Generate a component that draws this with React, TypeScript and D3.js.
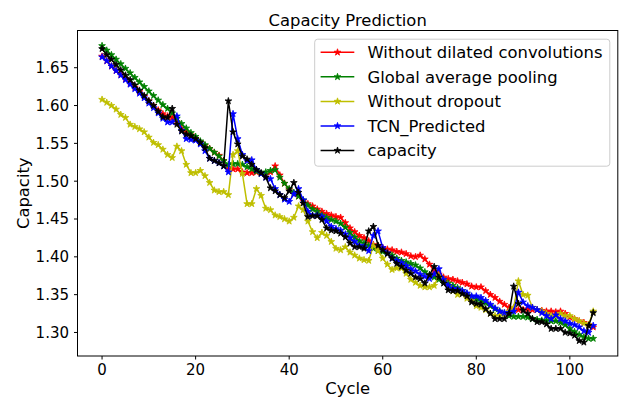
import React from "react";
import * as d3 from "d3";

const cycles: number[] = Array.from({ length: 106 }, (_, i) => i);

const withoutDilated: number[] = [
  1.665, 1.659, 1.652, 1.646, 1.641, 1.635, 1.629, 1.624, 1.618, 1.612,
  1.606, 1.600, 1.594, 1.589, 1.586, 1.584, 1.578, 1.570, 1.565, 1.561,
  1.556, 1.552, 1.547, 1.543, 1.538, 1.534, 1.527, 1.516, 1.516, 1.516,
  1.512, 1.511, 1.511, 1.512, 1.510, 1.508, 1.512, 1.520, 1.508, 1.497,
  1.489, 1.483, 1.480, 1.474, 1.470, 1.467, 1.463, 1.460, 1.457, 1.455,
  1.453, 1.452, 1.445, 1.438, 1.433, 1.428, 1.425, 1.421, 1.416, 1.414,
  1.412, 1.410, 1.409, 1.407, 1.406, 1.404, 1.401, 1.400, 1.402, 1.397,
  1.390, 1.381, 1.377, 1.373, 1.371, 1.370, 1.368, 1.366, 1.364, 1.361,
  1.360, 1.360, 1.355, 1.350, 1.346, 1.341, 1.337, 1.333, 1.331, 1.330,
  1.330, 1.331, 1.330, 1.330, 1.329, 1.328, 1.328, 1.327, 1.328, 1.325,
  1.320, 1.318, 1.315, 1.313, 1.310, 1.307,
];

const globalAvgPooling: number[] = [
  1.679, 1.673, 1.667, 1.661, 1.655, 1.649, 1.643, 1.637, 1.631, 1.625,
  1.619, 1.613, 1.607, 1.601, 1.596, 1.590, 1.583, 1.576, 1.570, 1.564,
  1.559, 1.553, 1.548, 1.543, 1.538, 1.533, 1.527, 1.522, 1.523, 1.523,
  1.522, 1.519, 1.516, 1.513, 1.510, 1.512, 1.514, 1.515, 1.505, 1.497,
  1.490, 1.485, 1.480, 1.475, 1.468, 1.463, 1.460, 1.455, 1.452, 1.449,
  1.447, 1.444, 1.439, 1.432, 1.426, 1.421, 1.418, 1.415, 1.411, 1.408,
  1.407, 1.405, 1.402, 1.398, 1.395, 1.393, 1.391, 1.389, 1.385, 1.380,
  1.376, 1.373, 1.370, 1.368, 1.365, 1.362, 1.359, 1.355, 1.351, 1.347,
  1.344, 1.342, 1.339, 1.335, 1.331, 1.328, 1.325, 1.322, 1.321, 1.321,
  1.321, 1.320, 1.318, 1.317, 1.316, 1.316, 1.315, 1.315, 1.313, 1.310,
  1.305, 1.301, 1.297, 1.294, 1.292, 1.292,
];

const withoutDropout: number[] = [
  1.608, 1.604, 1.600, 1.595, 1.588, 1.584, 1.575, 1.572, 1.569, 1.565,
  1.558, 1.551, 1.548, 1.542, 1.535, 1.531, 1.546, 1.540, 1.522, 1.511,
  1.511, 1.514, 1.507, 1.498, 1.488, 1.486, 1.486, 1.482, 1.535, 1.540,
  1.510, 1.470, 1.470, 1.490, 1.481, 1.464, 1.462, 1.455, 1.453, 1.450,
  1.447, 1.452, 1.467, 1.462, 1.447, 1.433, 1.425, 1.432, 1.428, 1.420,
  1.411, 1.409, 1.413, 1.406, 1.402, 1.398, 1.396, 1.395, 1.415, 1.408,
  1.398, 1.390, 1.383, 1.385, 1.385, 1.378, 1.370, 1.366, 1.362, 1.360,
  1.360, 1.362, 1.375, 1.370, 1.360, 1.355, 1.350, 1.352, 1.345, 1.342,
  1.335, 1.333, 1.330, 1.325, 1.322, 1.322, 1.325, 1.328, 1.333, 1.368,
  1.350, 1.349, 1.333, 1.330, 1.328, 1.325, 1.322, 1.322, 1.325, 1.322,
  1.322, 1.318, 1.315, 1.312, 1.310, 1.328,
];

const tcnPredicted: number[] = [
  1.664, 1.659, 1.652, 1.646, 1.640, 1.634, 1.628, 1.622, 1.616, 1.610,
  1.603, 1.597, 1.590, 1.583, 1.578, 1.578, 1.586, 1.567, 1.556, 1.555,
  1.554, 1.549, 1.540, 1.530, 1.527, 1.524, 1.520, 1.512, 1.589, 1.556,
  1.535, 1.527, 1.528, 1.515, 1.510, 1.505, 1.503, 1.490, 1.482, 1.476,
  1.473, 1.483, 1.490, 1.475, 1.460, 1.455, 1.455, 1.453, 1.447, 1.440,
  1.437, 1.435, 1.430, 1.425, 1.420, 1.415, 1.413, 1.408, 1.428, 1.434,
  1.412, 1.405, 1.398, 1.395, 1.392, 1.388, 1.384, 1.381, 1.377, 1.374,
  1.371, 1.377, 1.384, 1.370, 1.362, 1.358, 1.357, 1.355, 1.352, 1.348,
  1.348, 1.346, 1.342, 1.337, 1.332, 1.328, 1.326, 1.326, 1.328, 1.353,
  1.340, 1.335, 1.333, 1.330, 1.326, 1.322, 1.318, 1.323, 1.318, 1.315,
  1.312, 1.310, 1.307, 1.302, 1.300, 1.309,
];

const capacity: number[] = [
  1.675, 1.667, 1.661, 1.654, 1.647, 1.640, 1.634, 1.627, 1.620, 1.613,
  1.606, 1.600, 1.592, 1.585, 1.584, 1.596, 1.575, 1.566, 1.562, 1.560,
  1.556, 1.551, 1.544, 1.530, 1.527, 1.524, 1.520, 1.606, 1.565, 1.549,
  1.533, 1.529, 1.522, 1.515, 1.511, 1.505, 1.491, 1.487, 1.482, 1.478,
  1.487, 1.498, 1.485, 1.471, 1.453, 1.454, 1.454, 1.449, 1.438, 1.435,
  1.434, 1.431, 1.426, 1.418, 1.413, 1.413, 1.411, 1.434, 1.440, 1.415,
  1.409, 1.404, 1.398, 1.391, 1.387, 1.382, 1.378, 1.373, 1.371, 1.365,
  1.376, 1.387, 1.373, 1.365, 1.356, 1.355, 1.355, 1.351, 1.348, 1.340,
  1.338, 1.337, 1.331, 1.325, 1.318, 1.318, 1.318, 1.325, 1.361, 1.338,
  1.329, 1.325, 1.318, 1.314, 1.314, 1.311, 1.305, 1.305, 1.305, 1.300,
  1.299, 1.296, 1.289, 1.287, 1.309, 1.326,
];

const seriesNames: string[] = [
  "Without dilated convolutions",
  "Global average pooling",
  "Without dropout",
  "TCN_Predicted",
  "capacity",
];
const seriesColors: string[] = ["#ff0000", "#008000", "#bfbf00", "#0000ff", "#000000"];
const seriesValues: number[][] = [withoutDilated, globalAvgPooling, withoutDropout, tcnPredicted, capacity];

const xTicks: number[] = [0, 20, 40, 60, 80, 100];
const yTicks: number[] = [1.3, 1.35, 1.4, 1.45, 1.5, 1.55, 1.6, 1.65];

const W = 622;
const H = 397;
const left = 77.5;
const right = 617.8;
const top = 30.5;
const bottom = 356;
const FONT = "DejaVu Sans, sans-serif";

export default function App() {
  const x = d3.scaleLinear().domain([-5.25, 110.25]).range([left, right]);
  const y = d3.scaleLinear().domain([1.2689, 1.6992]).range([bottom, top]);
  const line = d3
    .line<number>()
    .x((_, i) => x(cycles[i]))
    .y((d) => y(d));
  const star = d3.symbol().type(d3.symbolStar).size(14)() as string;

  const legX = 314.7;
  const legY = 39.2;
  const legW = 295.1;
  const legH = 127;
  const rowY0 = 52.3;
  const rowStep = 24.55;

  return (
    <svg
      width={W}
      height={H}
      style={{ position: "absolute", left: 0, top: 0, background: "#fff" }}
      fontFamily={FONT}
    >
      <rect x={0} y={0} width={W} height={H} fill="#fff" />
      <defs>
        <clipPath id="plotclip">
          <rect x={left} y={top} width={right - left} height={bottom - top} />
        </clipPath>
      </defs>
      <g clipPath="url(#plotclip)">
        {seriesValues.map((vals, si) => (
          <g key={si}>
            <path d={line(vals) || ""} fill="none" stroke={seriesColors[si]} strokeWidth={1.5} strokeLinejoin="round" />
            {vals.map((v, i) => (
              <path
                key={i}
                d={star}
                transform={`translate(${x(cycles[i])},${y(v)})`}
                fill={seriesColors[si]}
                stroke={seriesColors[si]}
                strokeWidth={0.8}
              />
            ))}
          </g>
        ))}
      </g>
      <rect x={left} y={top} width={right - left} height={bottom - top} fill="none" stroke="#000" strokeWidth={1} />
      {xTicks.map((t) => (
        <g key={"x" + t}>
          <line x1={x(t)} x2={x(t)} y1={bottom} y2={bottom + 3.5} stroke="#000" strokeWidth={1} />
          <text x={x(t)} y={375} textAnchor="middle" fontSize={15} fill="#000">
            {t}
          </text>
        </g>
      ))}
      {yTicks.map((t) => (
        <g key={"y" + t}>
          <line x1={left - 3.5} x2={left} y1={y(t)} y2={y(t)} stroke="#000" strokeWidth={1} />
          <text x={69} y={y(t)} dy="0.36em" textAnchor="end" fontSize={15} fill="#000">
            {d3.format(".2f")(t)}
          </text>
        </g>
      ))}
      <text x={(left + right) / 2} y={25.5} textAnchor="middle" fontSize={16.4} fill="#000">
        Capacity Prediction
      </text>
      <text x={(left + right) / 2} y={394} textAnchor="middle" fontSize={16.4} fill="#000">
        Cycle
      </text>
      <text
        transform={`translate(29,${(top + bottom) / 2}) rotate(-90)`}
        textAnchor="middle"
        fontSize={16.4}
        fill="#000"
      >
        Capacity
      </text>
      <rect x={legX} y={legY} width={legW} height={legH} rx={3} fill="#fff" fillOpacity={0.8} stroke="#cccccc" strokeWidth={1} />
      {seriesNames.map((name, i) => {
        const ry = rowY0 + i * rowStep;
        return (
          <g key={name}>
            <line x1={320.6} x2={354.3} y1={ry} y2={ry} stroke={seriesColors[i]} strokeWidth={1.5} />
            <path d={star} transform={`translate(${337.5},${ry})`} fill={seriesColors[i]} stroke={seriesColors[i]} strokeWidth={0.8} />
            <text x={367.5} y={ry} dy="0.36em" fontSize={16.4} fill="#000">
              {name}
            </text>
          </g>
        );
      })}
    </svg>
  );
}
